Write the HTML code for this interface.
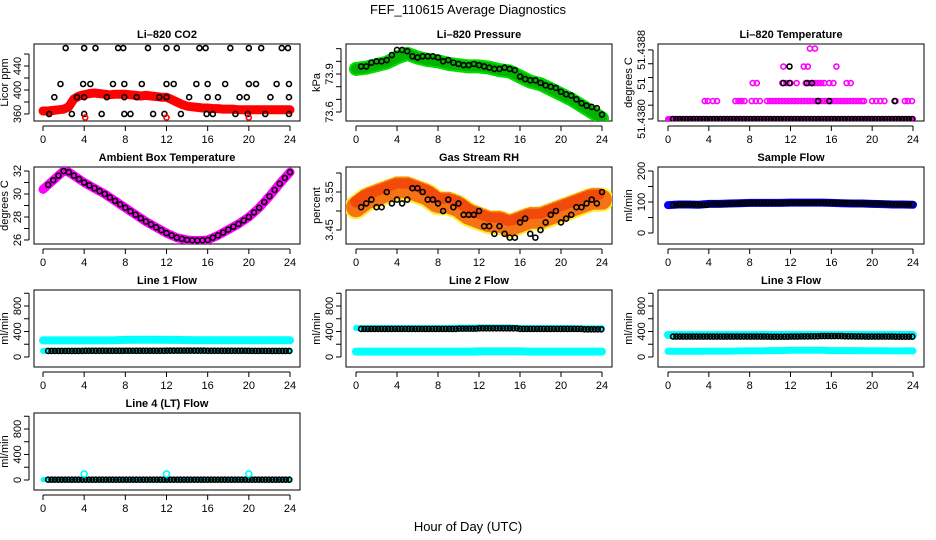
<!DOCTYPE html>
<html><head><meta charset="utf-8"><style>
html,body{margin:0;padding:0;background:#fff;}
svg{display:block;font-family:"Liberation Sans",Arial,sans-serif;}
</style></head><body>
<svg id="chart" width="936" height="540" viewBox="0 0 936 540">
<text x="468" y="14" text-anchor="middle" font-size="13">FEF_110615  Average Diagnostics</text>
<text x="468" y="531" text-anchor="middle" font-size="13">Hour of Day (UTC)</text>
</svg>
<script>
// ---------- data ----------
const xTicks=[0,4,8,12,16,20,24];
const halfHours=[];for(let i=1;i<=48;i++)halfHours.push(i*0.5);
const hourly=[];for(let i=0;i<=24;i++)hourly.push(i);
// CO2
const co2Band=[365,365,366,367,368,372,385,390,392,394,395,394,393,392,393,393,393,392,391,390,391,390,389,388,388,384,380,376,373,372,371,370,370,369,369,368,368,368,367,367,367,367,367,367,367,367,367,367,367];
const co2BlackHours=[2.2,4,5.1,7.3,7.8,10.2,12,13,15.2,15.8,18.2,20,21.2,23.2,23.8,1.7,3.9,4.6,6.8,7.9,9.6,12,12.7,14.9,16,17.7,20,20.7,22.7,23.9,1.1,3.3,4,6.2,7.9,9.1,11.3,12,14.2,16,17,19.1,19.8,22.1,23.9,0.6,2.8,4,5.7,7.9,8.5,10.7,11.8,13.4,15.9,16.5,18.7,19.9,21.6,23.9];
const co2BlackVals=[470,470,470,470,470,470,470,470,470,470,470,470,470,470,470,410,410,410,410,410,410,410,410,410,410,410,410,410,410,410,388,388,388,388,388,388,388,388,388,388,388,388,388,388,388,360,360,360,360,360,360,360,360,360,360,360,360,360,360,360];
const co2RedHours=[4.1,12,20];
const co2RedVals=[354,354,354];
// Pressure
const presBand=[73.94,73.95,73.97,73.99,74.03,74.06,74.03,74.01,74.00,73.98,73.97,73.96,73.96,73.95,73.93,73.92,73.88,73.84,73.82,73.78,73.74,73.70,73.65,73.60,73.55];
const presBlack=[73.96,73.96,73.99,74.0,74.0,74.01,74.05,74.09,74.09,74.08,74.04,74.03,74.04,74.04,74.04,74.03,74.00,74.01,73.99,73.98,73.97,73.97,73.98,73.97,73.96,73.95,73.94,73.94,73.95,73.94,73.93,73.88,73.86,73.85,73.85,73.83,73.81,73.80,73.79,73.76,73.74,73.73,73.70,73.67,73.65,73.64,73.63,73.58];
// Li-820 temperature (levels)
const tempLevels=[0,1.3,2.6,3.8,5.1];
const tempMagHours=[[],[3.6,3.9,4.4,4.8,6.6,6.9,7.2,7.5,8.2,8.6,9.0,9.7,10,10.3,10.6,10.9,11.2,11.5,11.8,12.1,12.4,12.7,13,13.3,13.6,13.9,14.2,14.5,14.8,15.1,15.4,15.7,16,16.3,16.6,16.9,17.2,17.5,17.8,18.1,18.4,18.7,19,19.2,20,20.4,20.8,21.2,22.3,23.2,23.5,23.9],[8.3,8.7,11.2,11.6,12,12.6,13.5,13.8,14.1,14.4,14.7,15,15.3,15.8,16.2,17.5,17.9],[11.3,13.3,13.7,16.5],[13.9,14.4]];
const tempBlackHours=[[],[14.7,15.8,22.2],[11.3,11.9,13.6,14.1],[11.9],[]];
// Ambient
const ambient=[30.4,30.8,31.2,31.6,32.0,31.9,31.6,31.3,31.0,30.75,30.5,30.25,30.0,29.7,29.4,29.1,28.8,28.5,28.2,27.9,27.6,27.35,27.1,26.85,26.6,26.4,26.2,26.1,26.0,25.97,25.95,25.97,26.0,26.2,26.4,26.65,26.9,27.15,27.4,27.7,28.0,28.4,28.8,29.3,29.8,30.35,30.9,31.4,31.9];
// RH
const rhBand=[3.51,3.53,3.54,3.55,3.56,3.56,3.55,3.54,3.52,3.52,3.51,3.49,3.48,3.47,3.47,3.46,3.47,3.48,3.48,3.49,3.50,3.51,3.52,3.53,3.53];
const rhBlack=[3.51,3.52,3.53,3.51,3.51,3.55,3.52,3.53,3.52,3.53,3.56,3.56,3.55,3.53,3.53,3.52,3.50,3.53,3.51,3.52,3.49,3.49,3.49,3.50,3.46,3.46,3.44,3.46,3.44,3.43,3.43,3.47,3.48,3.44,3.43,3.45,3.47,3.49,3.50,3.47,3.48,3.49,3.51,3.51,3.52,3.53,3.52,3.55];
// Flows (hourly)
const sampleFlow=[90,92,92,91,94,94,95,96,97,97,97,97,98,98,98,98,97,96,95,95,94,93,92,92,91];
const line1Cyan=[260,260,260,260,260,260,260,262,268,270,270,270,268,268,265,262,262,262,262,262,262,262,262,262,262];
const line1Black=[95,95,95,95,97,97,97,97,98,98,98,98,99,99,99,99,98,97,97,97,96,96,95,95,95];
const line2Cyan=[85,85,85,85,85,85,85,85,85,85,85,85,88,88,88,88,88,85,85,85,85,85,85,85,85];
const line2Black=[440,440,440,440,440,440,440,440,440,440,445,445,450,450,450,450,440,440,440,440,440,440,435,435,435];
const line3Cyan=[345,345,345,345,345,345,345,345,345,345,345,345,345,345,345,345,345,345,345,345,345,345,345,345,345];
const line3Cyan2=[90,90,90,90,92,92,92,95,95,95,100,100,105,105,105,105,100,100,100,98,98,98,95,95,95];
const line3Black=[320,320,320,320,320,320,320,320,320,320,318,318,320,322,325,328,328,325,322,320,320,320,318,318,318];
const line4Black=[5,5,5,5,5,5,5,5,5,5,5,5,5,5,5,5,5,5,5,5,5,5,5,5,5];
const line4SpikeHours=[4,12,20];
const line4SpikeVals=[95,95,95];

// ---------- helpers ----------
const svg=document.getElementById('chart');
const NS='http://www.w3.org/2000/svg';
function mk(tag,attrs,parent){const e=document.createElementNS(NS,tag);for(const k in attrs)e.setAttribute(k,attrs[k]);(parent||svg).appendChild(e);return e;}
const cols=[{l:34,r:300,x0:43,x24:290},{l:346,r:612,x0:356,x24:602},{l:658,r:924,x0:668,x24:913}];
const rowTops=[44,167,290,413];
function panel(name,c,r,title,ylab,ymin,ymax,ticks,labels,anchors){
  const C=cols[c],top=rowTops[r],bot=top+77;
  const g=mk('g',{});
  
  
  const P={g,xs:h=>C.x0+(C.x24-C.x0)*h/24,ys:v=>bot-(v-ymin)/(ymax-ymin)*(bot-top)};
  const t=mk('text',{x:(C.l+C.r)/2,y:top-6,'text-anchor':'middle','font-size':11,'font-weight':'bold'},g);t.textContent=title;
  
  
  const b=mk('rect',{x:C.l,y:top,width:C.r-C.l,height:77,fill:'none',stroke:'#000','stroke-width':1},g);
  
  
  mk('line',{x1:P.xs(0),x2:P.xs(24),y1:bot+5,y2:bot+5,stroke:'#000'},g);
  xTicks.forEach(h=>{const x=P.xs(h);mk('line',{x1:x,x2:x,y1:bot+5,y2:bot+10,stroke:'#000'},g);
    const tt=mk('text',{x:x,y:bot+22,'text-anchor':'middle','font-size':11},g);tt.textContent=h;
    
    });
  const yt=ticks.map(P.ys);
  mk('line',{x1:C.l-5,x2:C.l-5,y1:Math.min(...yt),y2:Math.max(...yt),stroke:'#000'},g);
  ticks.forEach((v,i)=>{const y=P.ys(v);mk('line',{x1:C.l-10,x2:C.l-5,y1:y,y2:y,stroke:'#000'},g);
    if(labels[i]){const tt=mk('text',{x:0,y:0,'text-anchor':anchors?anchors[i]:'middle','font-size':11,transform:`translate(${C.l-13},${y}) rotate(-90)`},g);tt.textContent=labels[i];
    
    }});
  const yl=mk('text',{x:0,y:0,'text-anchor':'middle','font-size':11,transform:`translate(${C.l-26},${(top+bot)/2}) rotate(-90)`},g);yl.textContent=ylab;
  
  
  const cp=mk('clipPath',{id:'cp'+name},g);mk('rect',{x:C.l,y:top,width:C.r-C.l,height:77},cp);
  P.d=mk('g',{'clip-path':`url(#cp${name})`},g);
  return P;
}
function band(P,hrs,vals,color,w,op,dash){const pts=hrs.map((h,i)=>P.xs(h)+','+P.ys(vals[i])).join(' ');
  const e=mk('polyline',{points:pts,fill:'none',stroke:color,'stroke-width':w,'stroke-linecap':'round','stroke-linejoin':'round',opacity:op||1},P.d);
  if(dash)e.setAttribute('stroke-dasharray',dash);
  
  }
function circ(P,h,v,color,rr){const e=mk('circle',{cx:P.xs(h),cy:P.ys(v),r:rr||2.5,fill:'none',stroke:color,'stroke-width':1.6},P.d);
  
  }
function stepCircles(P,vals,color,step){for(let h=0.5;h<=24.01;h+=step){circ(P,h,vals[Math.min(24,Math.floor(h))],color);}}

// CO2
let P=panel('co2',0,0,'Li\u2013820 CO2','Licor ppm',348.3,476.7,[360,380,400,420,440,460],['360','','400','','440','']);
band(P,co2Band.map((v,i)=>i*0.5),co2Band,'#ff0000',9);
co2BlackHours.forEach((h,i)=>circ(P,h,co2BlackVals[i],'#000'));
co2RedHours.forEach((h,i)=>circ(P,h,co2RedVals[i],'#ff0000'));
// Pressure
P=panel('pressure',1,0,'Li\u2013820 Pressure','kPa',73.529,74.137,[73.6,73.7,73.8,73.9,74.0,74.1],['73.6','','','73.9','','']);
band(P,hourly,presBand,'#00dd00',14);
band(P,hourly,presBand,'#006600',10,0.35,'1 2');
halfHours.forEach((h,i)=>circ(P,h,presBlack[i],'#000'));
// Li-820 temp
P=panel('li820-temp',2,0,'Li\u2013820 Temperature','degrees C',-0.145,5.43,[0,1,2,3,4,5],['51.4380','','','51','','51.4388'],['middle','middle','middle','end','middle','middle']);
band(P,[0,24],[0,0],'#ff00ff',6);
tempLevels.forEach((lv,k)=>tempMagHours[k].forEach(h=>circ(P,h,lv,'#ff00ff')));
for(let h=0.5;h<=24;h+=0.33)circ(P,h,0,'#000');
tempLevels.forEach((lv,k)=>tempBlackHours[k].forEach(h=>circ(P,h,lv,'#000')));
// Ambient
P=panel('ambient-temp',0,1,'Ambient Box Temperature','degrees C',25.65,32.35,[26,27,28,29,30,31,32],['26','','28','','30','','32']);
const amH=ambient.map((v,i)=>i*0.5);
band(P,amH,ambient,'#ff00ff',9);
amH.forEach((h,i)=>{if(i>0)circ(P,h,ambient[i],'#000');});
// RH
P=panel('gas-rh',1,1,'Gas Stream RH','percent',3.4132,3.6158,[3.45,3.50,3.55,3.60],['3.45','','3.55','']);
band(P,hourly,rhBand,'#ffee33',24);
band(P,hourly,rhBand,'#ee2200',20,0.6,'1 3');
band(P,hourly,rhBand.map(v=>v+0.015),'#ee2200',12,0.5,'1 4');
halfHours.forEach((h,i)=>circ(P,h,rhBlack[i],'#000'));
// Sample flow
P=panel('sample-flow',2,1,'Sample Flow','ml/min',-35.5,212.9,[0,50,100,150,200],['0','','100','','200']);
band(P,hourly,sampleFlow,'#0000ff',8);
stepCircles(P,sampleFlow,'#000',0.33);
// Line flows
const lt=[0,200,400,600,800,1000],ll=['0','','400','','800',''];
P=panel('line1-flow',0,2,'Line 1 Flow','ml/min',-157,1051,lt,ll);
band(P,hourly,line1Cyan,'#00ffff',8);
band(P,hourly,line1Black,'#00ffff',6);
stepCircles(P,line1Black,'#000',0.33);
P=panel('line2-flow',1,2,'Line 2 Flow','ml/min',-157,1051,lt,ll);
band(P,hourly,line2Cyan,'#00ffff',8);
band(P,hourly,line2Black.map(v=>v+15),'#00ffff',6);
stepCircles(P,line2Black,'#000',0.33);
P=panel('line3-flow',2,2,'Line 3 Flow','ml/min',-157,1051,lt,ll);
band(P,hourly,line3Cyan,'#00ffff',8);
band(P,hourly,line3Cyan2,'#00ffff',7);
stepCircles(P,line3Black,'#000',0.33);
P=panel('line4-flow',0,3,'Line 4 (LT) Flow','ml/min',-157,1051,lt,ll);
band(P,hourly,line4Black,'#00ffff',5);
stepCircles(P,line4Black,'#000',0.33);
line4SpikeHours.forEach((h,i)=>circ(P,h,line4SpikeVals[i],'#00ffff',3));
</script>
</body></html>
